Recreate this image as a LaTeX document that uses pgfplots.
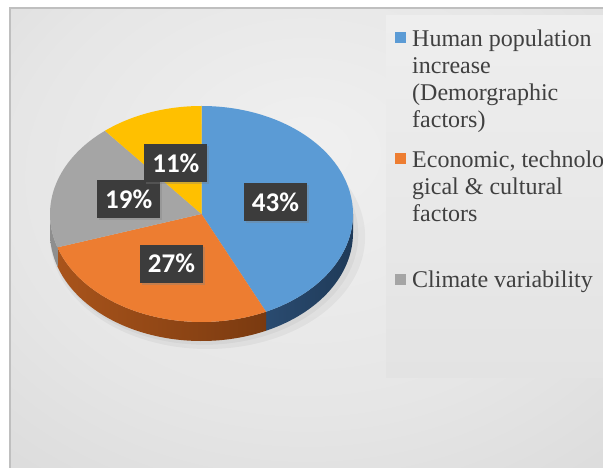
\documentclass[border=0pt]{standalone}
\usepackage{pgfplots}
\pgfplotsset{compat=1.18}
\usepackage{pgfplotstable}
\usepackage{fontspec}
\setmainfont{Liberation Serif}
\newfontfamily\lblfont{Carlito}
\usetikzlibrary{shadows}

\definecolor{cBlue}{HTML}{5B9BD5}
\definecolor{cOrange}{HTML}{ED7D31}
\definecolor{cGray}{HTML}{A5A5A5}
\definecolor{cYellow}{HTML}{FFC000}
\definecolor{wBlueL}{HTML}{2A4B70}
\definecolor{wBlueR}{HTML}{1F3A58}
\definecolor{wOrangeL}{HTML}{A9541B}
\definecolor{wOrangeR}{HTML}{7A3A10}
\definecolor{wGray}{HTML}{8E8E8E}
\definecolor{lblbox}{HTML}{3C3C3C}
\definecolor{legtext}{HTML}{404040}
\definecolor{bgA}{HTML}{F0F0F0}
\definecolor{bgB}{HTML}{E6E6E6}
\definecolor{bgC}{HTML}{D8D8D8}
\definecolor{bgD}{HTML}{C8C8C8}
\definecolor{legTop}{HTML}{EEEEEE}
\definecolor{legBot}{HTML}{E3E3E3}

\pgfdeclareradialshading{bgshade}{\pgfpoint{0bp}{10bp}}{color(0bp)=(bgA); color(25bp)=(bgB); color(45bp)=(bgC); color(70bp)=(bgD)}

\pgfplotstableread{
name value
Human 43
Economic 27
Climate 19
Other 11
}\piedata

\pgfplotstablegetelem{0}{value}\of\piedata \let\vA\pgfplotsretval
\pgfplotstablegetelem{1}{value}\of\piedata \let\vB\pgfplotsretval
\pgfplotstablegetelem{2}{value}\of\piedata \let\vC\pgfplotsretval
\pgfplotstablegetelem{3}{value}\of\piedata \let\vD\pgfplotsretval

\pgfmathsetmacro\aA{90}
\pgfmathsetmacro\aB{\aA-3.6*\vA}
\pgfmathsetmacro\aC{\aB-3.6*\vB}
\pgfmathsetmacro\aD{\aC-3.6*\vC}
\pgfmathsetmacro\aE{\aD-3.6*\vD}

\def\rx{151.5bp}
\def\ry{108bp}
\def\depu{0.176}% wall depth in axis y units (19bp)

% sector top: start, end, colour
\newcommand\sector[3]{%
  \fill[#3] (axis cs:0,0) -- (axis cs:{cos(#1)},{sin(#1)})
    arc[start angle=#1,end angle=#2,x radius=\rx,y radius=\ry] -- cycle;}
% side wall: start, end, left colour, right colour
\newcommand\wall[4]{%
  \shade[left color=#3,right color=#4] (axis cs:{cos(#1)},{sin(#1)})
    arc[start angle=#1,end angle=#2,x radius=\rx,y radius=\ry]
    -- (axis cs:{cos(#2)},{sin(#2)-\depu})
    arc[start angle=#2,end angle=#1,x radius=\rx,y radius=\ry] -- cycle;}
\newcommand\plabel[3]{%
  \node[lbl] at (axis cs:{0.5*cos((#1+#2)/2)},{0.5*sin((#1+#2)/2)}) {#3\%};}

\tikzset{lbl/.style={fill=lblbox, text=white, minimum width=63bp, minimum height=38bp,
  inner sep=0pt, font=\lblfont\bfseries\fontsize{27bp}{30bp}\selectfont,
  drop shadow={shadow xshift=2bp, shadow yshift=-2bp, opacity=0.35}}}

\begin{document}
\begin{tikzpicture}
\useasboundingbox (0,0) rectangle (603bp,468bp);
\fill[white] (0,0) rectangle (603bp,468bp);
\shade[shading=bgshade] (10bp,0) rectangle (603bp,460bp);
\draw[black!25, line width=1.2bp] (10bp,0) -- (10bp,460bp) -- (603bp,460bp);

% legend background
\shade[top color=legTop, bottom color=legBot] (386bp,90bp) rectangle (610bp,452bp);

\begin{axis}[x=151.5bp, y=108bp, xmin=-1.1, xmax=1.1, ymin=-1.3, ymax=1.1,
  hide axis, clip=false, anchor=origin, at={(201.5bp,254bp)}]
  % soft shadow
  \fill[black, opacity=0.04] (axis cs:0.04,-0.21) ellipse [x radius=1.04, y radius=1.04];
  \fill[black, opacity=0.04] (axis cs:0.02,-0.19) ellipse [x radius=1.015, y radius=1.02];
  % walls (front half only)
  \wall{0}{\aB}{wBlueL}{wBlueR}
  \wall{\aB}{\aC}{wOrangeL}{wOrangeR}
  \wall{\aC}{-180}{wGray}{wGray}
  % tops
  \sector{\aA}{\aB}{cBlue}
  \sector{\aB}{\aC}{cOrange}
  \sector{\aC}{\aD}{cGray}
  \sector{\aD}{\aE}{cYellow}
  % labels
  \plabel{\aA}{\aB}{\vA}
  \plabel{\aB}{\aC}{\vB}
  \plabel{\aC}{\aD}{\vC}
  \plabel{\aD}{\aE}{\vD}
\end{axis}

% legend
\begin{scope}[every node/.style={anchor=base west, inner sep=0pt, text=legtext,
  font=\fontsize{24bp}{27bp}\selectfont}]
  \fill[cBlue]   (395bp,425bp) rectangle (406bp,436bp);
  \node at (412bp,421bp) {Human population};
  \node at (412bp,394bp) {increase};
  \node at (412bp,367bp) {(Demorgraphic};
  \node at (412bp,340bp) {factors)};
  \fill[cOrange] (395bp,304bp) rectangle (406bp,315bp);
  \node at (412bp,300bp) {Economic, technolo};
  \node at (412bp,273bp) {gical \& cultural};
  \node at (412bp,246bp) {factors};
  \fill[cGray]   (395bp,183bp) rectangle (406bp,194bp);
  \node at (412bp,180bp) {Climate variability};
\end{scope}
\end{tikzpicture}
\end{document}
